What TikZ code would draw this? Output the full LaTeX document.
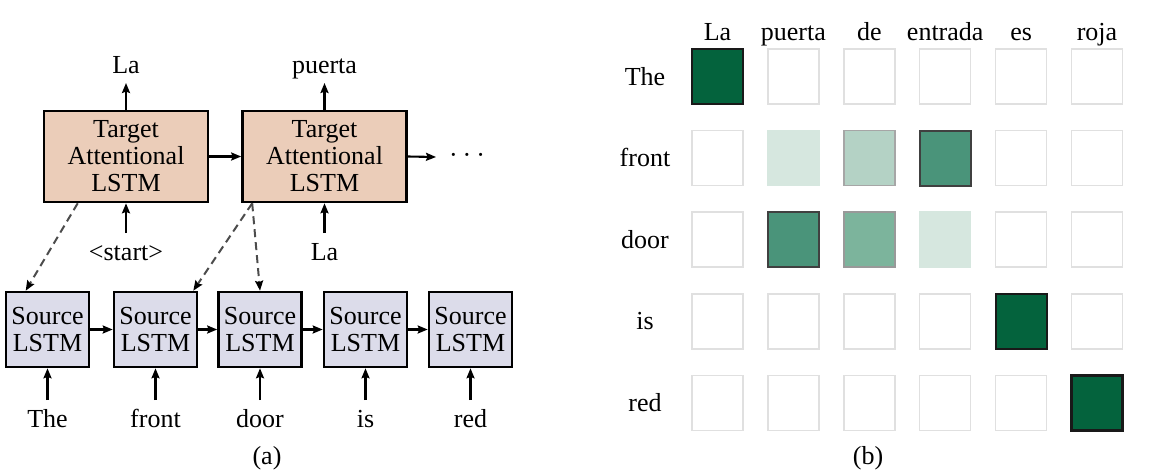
\documentclass[tikz,border=0pt]{standalone}
\usepackage{fontspec}
\setmainfont{Liberation Serif}
\usetikzlibrary{arrows.meta,calc}
\definecolor{tgt}{HTML}{EBCDB9}
\definecolor{src}{HTML}{DCDCEA}
\definecolor{gdark}{HTML}{04633D}
\definecolor{gmed}{HTML}{4A947A}
\definecolor{gmid}{HTML}{7CB49C}
\definecolor{glight}{HTML}{B4D2C5}
\definecolor{gvlight}{HTML}{D6E7DF}
\definecolor{cellgrey}{HTML}{E0E0E0}
\begin{document}
\begin{tikzpicture}[x=1pt,y=-1pt,
  every node/.style={font=\fontsize{26}{27}\selectfont, inner sep=0pt},
  lbl/.style={text height=18pt, text depth=5pt},
  tbox/.style={draw, line width=2.6pt, fill=tgt, minimum width=164pt, minimum height=91pt, align=center},
  sbox/.style={draw, line width=2.6pt, fill=src, minimum width=83pt, minimum height=75pt, align=center},
  arr/.style={line width=2.1pt, -{Stealth[length=10pt,width=8pt,inset=1.5pt]}},
  darr/.style={line width=2pt, draw=black!70, dash pattern=on 8pt off 5pt, -{Stealth[length=10pt,width=8pt,inset=1.5pt,color=black,fill=black]}},
  cell/.style={minimum width=51pt, minimum height=55pt, line width=1.5pt, draw=cellgrey, fill=white},
  cdark/.style={cell, fill=gdark, draw=black!90, line width=2.2pt},
  cmed/.style={cell, fill=gmed, draw=black!75, line width=2pt},
  cmid/.style={cell, fill=gmid, draw=black!40},
  clight/.style={cell, fill=glight, draw=black!35},
  cvlight/.style={cell, fill=gvlight, draw=gvlight}
]
\path[use as bounding box] (0,0) rectangle (1161,469);

% ---------- (a) ----------
\node[tbox] (t1) at (126,156.5) {Target\\Attentional\\LSTM};
\node[tbox] (t2) at (324.5,156.5) {Target\\Attentional\\LSTM};
\node[lbl, outer sep=13pt] (dots) at (467,157) {\textperiodcentered\kern5pt\textperiodcentered\kern5pt\textperiodcentered};

\node[lbl, outer sep=5pt, anchor=base] (o1) at (126,73) {La};
\node[lbl, outer sep=5pt, anchor=base] (o2) at (324.5,73) {puerta};
\node[lbl, outer sep=9pt, anchor=base] (i1) at (126,260) {\textless start\textgreater};
\node[lbl, outer sep=9pt, anchor=base] (i2) at (324.5,260) {La};

\draw[arr] (t1.north) -- (o1.south);
\draw[arr] (t2.north) -- (o2.south);
\draw[arr] (i1.north) -- (t1.south);
\draw[arr] (i2.north) -- (t2.south);
\draw[arr] (t1.east) -- (t2.west);
\draw[arr] (t2.east) -- (dots.west);

\foreach \x/\w [count=\i] in {47.5/The,155.5/front,260/door,365.5/is,470.5/red}{
  \node[sbox] (s\i) at (\x,329.5) {Source\\LSTM};
  \node[lbl, outer sep=9pt, anchor=base] (w\i) at (\x,427) {\w};
  \draw[arr] (w\i.north) -- (s\i.south);
}
\foreach \a/\b in {1/2,2/3,3/4,4/5}{
  \draw[arr] (s\a.east) -- (s\b.west);
}

\draw[darr] ($(t1.south west)+(35,0)$) -- ($(s1.north west)+(21,0)$);
\draw[darr] ($(t2.south west)+(11,0)$) -- ($(s2.north east)+(-5,0)$);
\draw[darr] ($(t2.south west)+(11,0)$) -- (s3.north);

\node[lbl, anchor=base] (capa) at (267,464) {(a)};

% ---------- (b) ----------
\foreach \w [count=\i] in {La,puerta,de,entrada,es,roja}{
  \node[lbl, anchor=base] (h\i) at ({717.5+75.9*(\i-1)},40) {\w};
}
\foreach \w [count=\j] in {The,front,door,is,red}{
  \node[lbl] (r\j) at (645,{76.5+81.6*(\j-1)+2}) {\w};
}
\foreach \st [count=\k from 0] in {
  cdark,cell,cell,cell,cell,cell,
  cell,cvlight,clight,cmed,cell,cell,
  cell,cmed,cmid,cvlight,cell,cell,
  cell,cell,cell,cell,cdark,cell,
  cell,cell,cell,cell,cell,cdark}{
  \pgfmathtruncatemacro{\ci}{mod(\k,6)}
  \pgfmathtruncatemacro{\rj}{div(\k,6)}
  \node[\st] (c\rj-\ci) at ({717.5+75.9*\ci},{76.5+81.6*\rj}) {};
}
\node[lbl, anchor=base] (capb) at (868,464) {(b)};
\end{tikzpicture}
\end{document}
